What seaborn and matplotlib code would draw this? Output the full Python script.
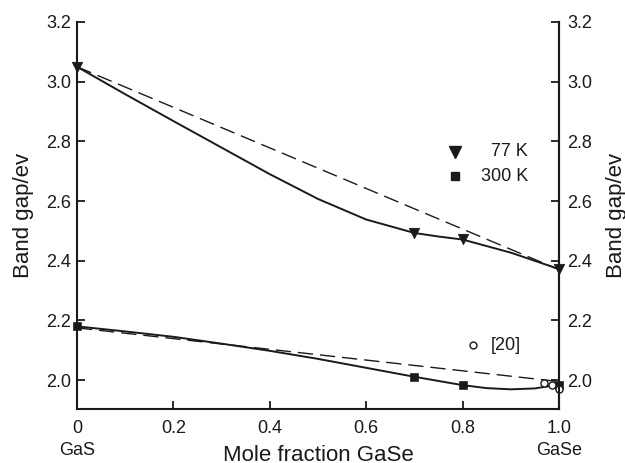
import numpy as np
import pandas as pd
import matplotlib
matplotlib.use("Agg")
import matplotlib.pyplot as plt
import seaborn as sns

sns.set_theme(style="ticks")
plt.rcParams['font.family'] = ['Liberation Sans', 'DejaVu Sans']

# --- data ---
x_77_curve = [0.0, 0.1, 0.2, 0.3, 0.4, 0.5, 0.6, 0.7, 0.75, 0.8, 0.9, 1.0]
y_77_curve = [3.05, 2.958, 2.868, 2.779, 2.69, 2.607, 2.538, 2.493, 2.481, 2.471, 2.427, 2.372]
x_77_pts = [0.0, 0.7, 0.8, 1.0]
y_77_pts = [3.05, 2.493, 2.473, 2.372]
x_77_dash = [0.0, 1.0]
y_77_dash = [3.05, 2.37]

x_300_curve = [0.0, 0.1, 0.2, 0.3, 0.4, 0.5, 0.6, 0.7, 0.8, 0.85, 0.9, 0.95, 1.0]
y_300_curve = [2.18, 2.163, 2.145, 2.122, 2.098, 2.071, 2.041, 2.011, 1.983, 1.973, 1.969, 1.972, 1.985]
x_300_pts = [0.0, 0.7, 0.8, 1.0]
y_300_pts = [2.18, 2.011, 1.983, 1.985]
x_300_dash = [0.0, 1.0]
y_300_dash = [2.175, 1.995]

x_ref20 = [0.969, 0.985, 1.0]
y_ref20 = [1.991, 1.985, 1.969]

xticks = [0, 0.2, 0.4, 0.6, 0.8, 1.0]
xtick_labels = ["0", "0.2", "0.4", "0.6", "0.8", "1.0"]
yticks = [2.0, 2.2, 2.4, 2.6, 2.8, 3.0, 3.2]
ytick_labels = ["2.0", "2.2", "2.4", "2.6", "2.8", "3.0", "3.2"]

INK = "#1a1a1a"

fig = plt.figure(figsize=(6.25, 4.63), dpi=100)
ax = fig.add_axes([0.1232, 0.1166, 0.7712, 0.8359])

# curves
sns.lineplot(x=x_77_curve, y=y_77_curve, ax=ax, color=INK, lw=1.4, sort=False)
sns.lineplot(x=x_77_dash, y=y_77_dash, ax=ax, color=INK, lw=1.0)
ax.lines[-1].set_dashes([11, 5])
sns.lineplot(x=x_300_curve, y=y_300_curve, ax=ax, color=INK, lw=1.4, sort=False)
sns.lineplot(x=x_300_dash, y=y_300_dash, ax=ax, color=INK, lw=1.0)
ax.lines[-1].set_dashes([11, 5])

# markers
sns.scatterplot(x=x_77_pts, y=y_77_pts, ax=ax, marker="v", s=55, color=INK,
                edgecolor=INK, zorder=5)
sns.scatterplot(x=x_300_pts, y=y_300_pts, ax=ax, marker="s", s=32, color=INK,
                edgecolor=INK, zorder=5)
sns.scatterplot(x=x_ref20, y=y_ref20, ax=ax, marker="o", s=26, facecolor="white",
                edgecolor=INK, linewidth=1.0, zorder=6)
for c in ax.collections:
    c.set_clip_on(False)

# in-plot legend
ax.plot([0.784], [2.765], marker="v", ms=8, color=INK, ls="none")
ax.text(0.936, 2.765, "77 K", ha="right", va="center", fontsize=13, color=INK)
ax.plot([0.784], [2.683], marker="s", ms=5.5, color=INK, ls="none")
ax.text(0.936, 2.683, "300 K", ha="right", va="center", fontsize=13, color=INK)
ax.plot([0.822], [2.117], marker="o", ms=5, mfc="white", mec=INK, mew=1.0, ls="none")
ax.text(0.858, 2.117, "[20]", ha="left", va="center", fontsize=13, color=INK)

ax.set_xlim(0, 1.0)
ax.set_ylim(1.903, 3.2)
ax.set_xticks(xticks)
ax.set_xticklabels(xtick_labels)
ax.set_yticks(yticks)
ax.set_yticklabels(ytick_labels)
ax.tick_params(direction="in", length=6, width=1.3, color=INK, labelsize=13,
               labelcolor=INK)
ax.tick_params(axis="y", pad=4)
ax.tick_params(axis="x", pad=8)
ax.set_xlabel("Mole fraction GaSe", fontsize=16, color=INK)
ax.xaxis.set_label_coords(0.5, -0.093)
ax.set_ylabel("Band gap/ev", fontsize=16, color=INK)
ax.yaxis.set_label_coords(-0.09, 0.5)
ax.text(0.0, -0.108, "GaS", transform=ax.transAxes, ha="center", va="center",
        fontsize=13, color=INK)
ax.text(1.0, -0.108, "GaSe", transform=ax.transAxes, ha="center", va="center",
        fontsize=13, color=INK)

for side in ["left", "bottom", "right"]:
    ax.spines[side].set_color(INK)
    ax.spines[side].set_linewidth(1.5)
ax.spines["top"].set_visible(False)
ax.spines["right"].set_visible(True)

ax2 = ax.twinx()
ax2.set_ylim(ax.get_ylim())
ax2.set_yticks(yticks)
ax2.set_yticklabels(ytick_labels)
ax2.tick_params(direction="in", length=6, width=1.3, color=INK, labelsize=13,
                labelcolor=INK, pad=6)
ax2.set_ylabel("Band gap/ev", fontsize=16, color=INK)
ax2.yaxis.set_label_coords(1.097, 0.5)
for side in ["left", "bottom", "top"]:
    ax2.spines[side].set_visible(False)
ax2.spines["right"].set_color(INK)
ax2.spines["right"].set_linewidth(1.5)

fig.savefig("out.png", dpi=100)
